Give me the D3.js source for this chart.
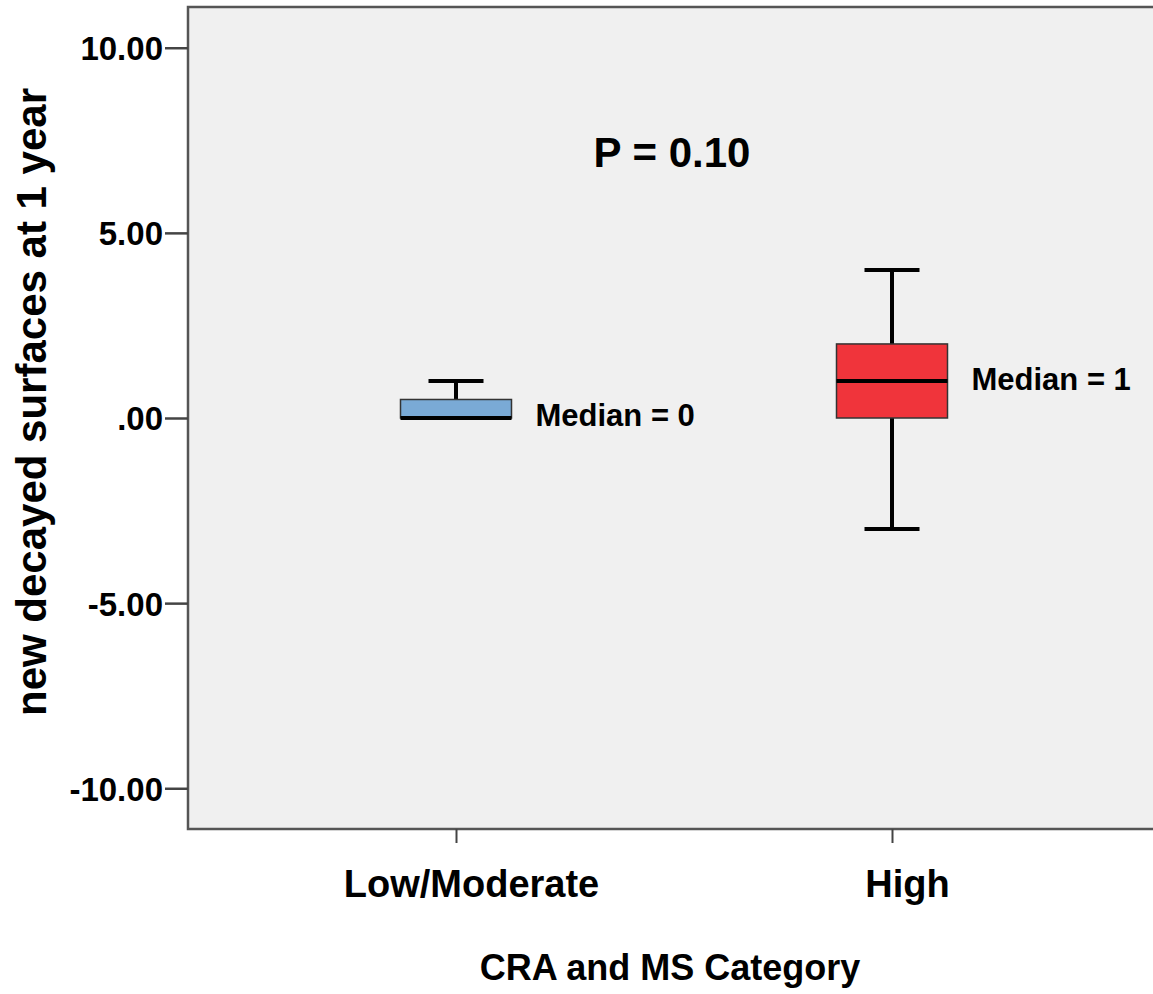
<!DOCTYPE html>
<html>
<head>
<meta charset="utf-8">
<script src="https://cdn.jsdelivr.net/npm/d3@7"></script>
<style>
  body { margin: 0; background: #fff; }
  text { font-family: "Liberation Sans", Arial, sans-serif; font-weight: bold; fill: #000; }
</style>
</head>
<body>
<div id="plot"></div>
<script>
// ############ DATA ###############

const categories = ["Low/Moderate", "High"];
const whiskerLow = [0, -3];
const q1 = [0, 0];
const medians = [0, 1];
const q3 = [0.5, 2];
const whiskerHigh = [1, 4];
const fills = ["#7aaad6", "#f0343b"];
const medianLabels = ["Median = 0", "Median = 1"];
const yTicks = [-10, -5, 0, 5, 10];
const pLabel = "P = 0.10";

// ############ SETUP ###############

const w = 1153, h = 994;
const plot = {left: 188, right: 1160, top: 7, bottom: 829};

const svg = d3.select("div#plot")
  .append("svg")
  .attr("width", w)
  .attr("height", h);

const yScale = d3.scaleLinear()
  .domain([-11.1, 11.1])
  .range([plot.bottom, plot.top]);

const xScale = d3.scalePoint()
  .domain(categories)
  .range([456, 892]);

const boxW = 111, capW = 55;

// plot background
svg.append("rect")
  .attr("x", plot.left)
  .attr("y", plot.top)
  .attr("width", plot.right - plot.left)
  .attr("height", plot.bottom - plot.top)
  .attr("fill", "#f0f0f0")
  .attr("stroke", "#555")
  .attr("stroke-width", 2.5);

// y-axis
const yAxis = d3.axisLeft(yScale)
  .tickValues(yTicks)
  .tickSize(23)
  .tickPadding(2)
  .tickFormat(d => d === 0 ? ".00" : d3.format(".2f")(d).replace("\u2212", "-"));

svg.append("g")
  .attr("id", "yaxis")
  .attr("transform", `translate(${plot.left}, 0)`)
  .call(yAxis)
  .call(g => g.select(".domain").remove())
  .call(g => g.selectAll(".tick line").attr("stroke", "#444").attr("stroke-width", 2.5))
  .call(g => g.selectAll(".tick text")
    .attr("font-size", 33)
    .attr("font-family", "Liberation Sans, Arial, sans-serif")
    .attr("font-weight", "bold")
    .attr("fill", "#000")
    .attr("dy", "0.36em"));

// x-axis
const xAxis = d3.axisBottom(xScale)
  .tickSize(14)
  .tickPadding(39);

svg.append("g")
  .attr("id", "xaxis")
  .attr("transform", `translate(0, ${plot.bottom})`)
  .call(xAxis)
  .call(g => g.select(".domain").remove())
  .call(g => g.selectAll(".tick line").attr("stroke", "#444").attr("stroke-width", 2))
  .call(g => g.selectAll(".tick text")
    .attr("font-size", 38)
    .attr("font-family", "Liberation Sans, Arial, sans-serif")
    .attr("font-weight", "bold")
    .attr("fill", "#000")
    .attr("dy", null)
    .attr("x", 15)
    .attr("y", 68));

// axis titles
svg.append("text")
  .attr("id", "ylab")
  .attr("text-anchor", "middle")
  .attr("font-size", 42)
  .attr("transform", `translate(46, 402) rotate(-90)`)
  .text("new decayed surfaces at 1 year");

svg.append("text")
  .attr("id", "xlab")
  .attr("x", 670)
  .attr("y", 980)
  .attr("text-anchor", "middle")
  .attr("font-size", 36)
  .text("CRA and MS Category");

// ############ BOXES ###############

const boxes = svg.append("g").attr("id", "boxes")
  .selectAll("g")
  .data(categories)
  .enter()
  .append("g");

// whisker stems
boxes.append("line")
  .attr("x1", d => xScale(d))
  .attr("x2", d => xScale(d))
  .attr("y1", (d, i) => yScale(whiskerLow[i]))
  .attr("y2", (d, i) => yScale(whiskerHigh[i]))
  .attr("stroke", "#000")
  .attr("stroke-width", 4);

// whisker caps
[whiskerLow, whiskerHigh].forEach(arr => {
  boxes.append("line")
    .attr("x1", d => xScale(d) - capW / 2)
    .attr("x2", d => xScale(d) + capW / 2)
    .attr("y1", (d, i) => yScale(arr[i]))
    .attr("y2", (d, i) => yScale(arr[i]))
    .attr("stroke", "#000")
    .attr("stroke-width", 4);
});

// box
boxes.append("rect")
  .attr("x", d => xScale(d) - boxW / 2)
  .attr("y", (d, i) => yScale(q3[i]))
  .attr("width", boxW)
  .attr("height", (d, i) => yScale(q1[i]) - yScale(q3[i]))
  .attr("fill", (d, i) => fills[i])
  .attr("stroke", "#333")
  .attr("stroke-width", 1.5);

// median
boxes.append("line")
  .attr("x1", d => xScale(d) - boxW / 2)
  .attr("x2", d => xScale(d) + boxW / 2)
  .attr("y1", (d, i) => yScale(medians[i]))
  .attr("y2", (d, i) => yScale(medians[i]))
  .attr("stroke", "#000")
  .attr("stroke-width", 4);

// median labels: beside the box middle for the flat box, on the median for the tall one
boxes.append("text")
  .attr("x", d => xScale(d) + boxW / 2 + 24)
  .attr("y", (d, i) => i === 0 ? yScale((q1[i] + q3[i]) / 2) : yScale(medians[i]))
  .attr("dy", (d, i) => i === 0 ? "0.55em" : "0.28em")
  .attr("font-size", 31)
  .text((d, i) => medianLabels[i]);

// p-value
svg.append("text")
  .attr("x", 672)
  .attr("y", 167)
  .attr("text-anchor", "middle")
  .attr("font-size", 42)
  .text(pLabel);
</script>
</body>
</html>
